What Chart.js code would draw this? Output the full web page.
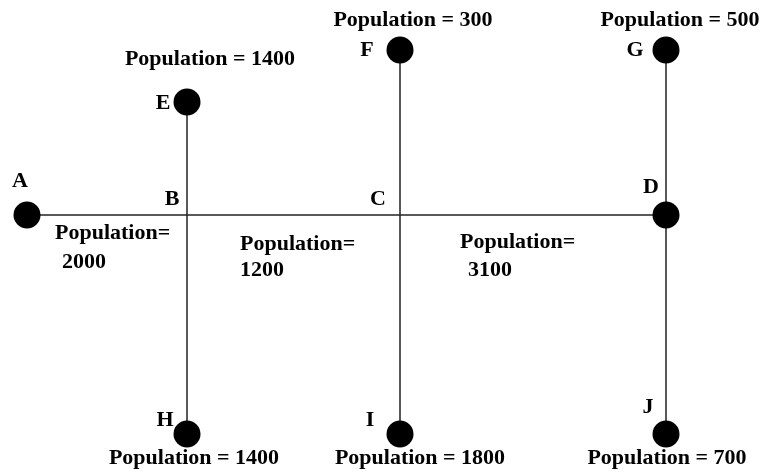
<!DOCTYPE html>
<html>
<head>
<meta charset="utf-8">
<script src="https://cdn.jsdelivr.net/npm/chart.js@4/dist/chart.umd.min.js"></script>
<style>
  html, body { margin: 0; padding: 0; background: #fff; }
  #wrap { width: 775px; height: 475px; position: relative; }
</style>
</head>
<body>
<div id="wrap"><canvas id="popChart"></canvas></div>
<script>
  // Network nodes (layout units match the 775x475 drawing area)
  const nodeNames = ['A', 'B', 'C', 'D', 'E', 'F', 'G', 'H', 'I', 'J'];
  const nodeX = [27, 187, 400, 666, 187, 400, 666, 187, 400, 666];
  const nodeY = [215, 215, 215, 215, 102, 50, 50, 434, 434, 434];
  // Population at each end node (null = junction, no dot)
  const nodePopulation = [null, null, null, null, 1400, 300, 500, 1400, 1800, 700];

  // Road segments between nodes
  const edges = [['A', 'D'], ['E', 'H'], ['F', 'I'], ['G', 'J']];
  // Population along the main road
  const edgeSegments = [['A', 'B'], ['B', 'C'], ['C', 'D']];
  const edgePopulation = [2000, 1200, 3100];

  const idx = name => nodeNames.indexOf(name);
  const pt = name => ({ x: nodeX[idx(name)], y: nodeY[idx(name)] });

  const FONT = 'bold 22px "Liberation Serif", "DejaVu Serif", serif';

  // Letter label offsets from each node (pixels)
  const letterOffset = {
    A: [-7, -34], B: [-15, -16], C: [-22, -16], D: [-15, -28],
    E: [-24, 1], F: [-33, 0], G: [-31, 0],
    H: [-22, -14], I: [-30, -14], J: [-18, -27]
  };
  // Population label offsets from each end node (pixels, centred)
  const popOffset = {
    E: [23, -43], F: [13, -30], G: [14, -30],
    H: [7, 24], I: [20, 24], J: [1, 24]
  };
  // Edge label placement: offset of the left edge from the segment start
  const edgeLabelOffset = [[28, 18, 35, 47], [53, 29, 53, 55], [60, 27, 68, 55]];

  const labelPlugin = {
    id: 'labels',
    afterDatasetsDraw(chart) {
      const { ctx, scales: { x, y } } = chart;
      ctx.save();
      ctx.fillStyle = '#000';
      ctx.font = FONT;
      ctx.textBaseline = 'middle';

      // Node letters
      ctx.textAlign = 'center';
      nodeNames.forEach((n, i) => {
        const px = x.getPixelForValue(nodeX[i]);
        const py = y.getPixelForValue(nodeY[i]);
        const o = letterOffset[n];
        ctx.fillText(n, px + o[0], py + o[1]);
      });

      // Node populations
      nodeNames.forEach((n, i) => {
        if (nodePopulation[i] == null) return;
        const px = x.getPixelForValue(nodeX[i]);
        const py = y.getPixelForValue(nodeY[i]);
        const o = popOffset[n];
        ctx.fillText('Population = ' + nodePopulation[i], px + o[0], py + o[1]);
      });

      // Road populations
      ctx.textAlign = 'left';
      edgeSegments.forEach((seg, i) => {
        const p = pt(seg[0]);
        const px = x.getPixelForValue(p.x);
        const py = y.getPixelForValue(p.y);
        const o = edgeLabelOffset[i];
        ctx.fillText('Population=', px + o[0], py + o[1]);
        ctx.fillText(String(edgePopulation[i]), px + o[2], py + o[3]);
      });
      ctx.restore();
    }
  };

  const lineSets = edges.map(e => ({
    type: 'line',
    data: [pt(e[0]), pt(e[1])],
    borderColor: '#222',
    borderWidth: 1.5,
    pointRadius: 0,
    showLine: true,
    fill: false,
    order: 2
  }));

  const dotNames = nodeNames.filter((n, i) => nodePopulation[i] != null || n === 'A' || n === 'D');

  const ctx = document.getElementById('popChart').getContext('2d');
  const popChart = new Chart(ctx, {
    type: 'scatter',
    data: {
      datasets: [
        {
          data: dotNames.map(pt),
          pointRadius: 13.5,
          pointBackgroundColor: '#000',
          pointBorderColor: '#000',
          pointBorderWidth: 0,
          showLine: false,
          order: 1
        },
        ...lineSets
      ]
    },
    options: {
      responsive: true,
      maintainAspectRatio: false,
      animation: false,
      layout: { padding: 0, autoPadding: false },
      plugins: { legend: { display: false }, tooltip: { enabled: false } },
      events: [],
      scales: {
        x: { type: 'linear', min: 0, max: 775, display: false },
        y: { type: 'linear', min: 0, max: 475, reverse: true, display: false }
      }
    },
    plugins: [labelPlugin]
  });
</script>
</body>
</html>
